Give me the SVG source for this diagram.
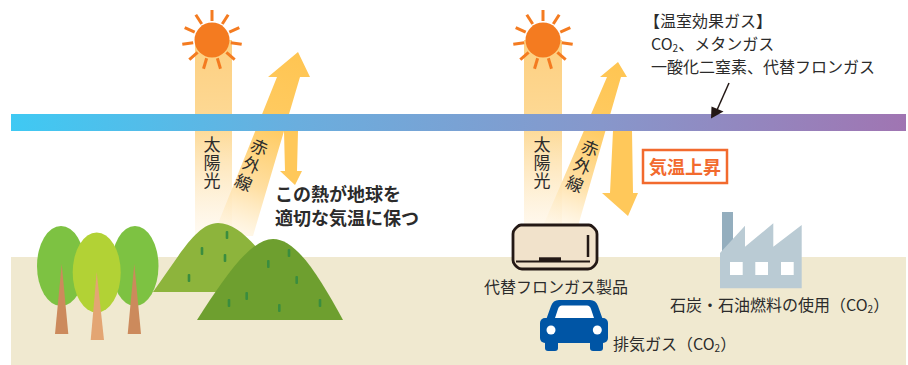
<svg xmlns="http://www.w3.org/2000/svg" width="908" height="365" viewBox="0 0 908 365">
  <defs>
    <linearGradient id="atmo" x1="11" y1="0" x2="906" y2="0" gradientUnits="userSpaceOnUse">
      <stop offset="0" stop-color="#3FC9F3"/>
      <stop offset="0.32" stop-color="#6AAEDE"/>
      <stop offset="0.66" stop-color="#8797CB"/>
      <stop offset="1" stop-color="#A075B2"/>
    </linearGradient>
    <linearGradient id="sunbeam" x1="0" y1="40" x2="0" y2="238" gradientUnits="userSpaceOnUse">
      <stop offset="0" stop-color="#FDCF80"/>
      <stop offset="0.45" stop-color="#FDDA97"/>
      <stop offset="1" stop-color="#FFF6E8" stop-opacity="0.5"/>
    </linearGradient>
    <linearGradient id="ir1" x1="298" y1="52" x2="230" y2="236" gradientUnits="userSpaceOnUse">
      <stop offset="0" stop-color="#FFC552"/>
      <stop offset="0.4" stop-color="#FFCB62"/>
      <stop offset="0.72" stop-color="#FFDFA2"/>
      <stop offset="1" stop-color="#FFF5E2" stop-opacity="0.6"/>
    </linearGradient>
    <linearGradient id="ir2" x1="618" y1="62" x2="558" y2="226" gradientUnits="userSpaceOnUse">
      <stop offset="0" stop-color="#FFC552"/>
      <stop offset="0.4" stop-color="#FFCB62"/>
      <stop offset="0.72" stop-color="#FFDFA2"/>
      <stop offset="1" stop-color="#FFF5E2" stop-opacity="0.6"/>
    </linearGradient>
    <g id="sun">
      <g stroke="#F47B20" stroke-width="3" stroke-linecap="butt">
        <line x1="0" y1="-19" x2="0" y2="-30"/>
        <line x1="0" y1="-19" x2="0" y2="-30" transform="rotate(32.7)"/>
        <line x1="0" y1="-19" x2="0" y2="-30" transform="rotate(65.5)"/>
        <line x1="0" y1="-19" x2="0" y2="-30" transform="rotate(98.2)"/>
        <line x1="0" y1="-19" x2="0" y2="-30" transform="rotate(130.9)"/>
        <line x1="0" y1="-19" x2="0" y2="-30" transform="rotate(163.6)"/>
        <line x1="0" y1="-19" x2="0" y2="-30" transform="rotate(196.4)"/>
        <line x1="0" y1="-19" x2="0" y2="-30" transform="rotate(229.1)"/>
        <line x1="0" y1="-19" x2="0" y2="-30" transform="rotate(261.8)"/>
        <line x1="0" y1="-19" x2="0" y2="-30" transform="rotate(294.5)"/>
        <line x1="0" y1="-19" x2="0" y2="-30" transform="rotate(327.3)"/>
      </g>
      <circle r="17.5" fill="#F47B20"/>
    </g>
  </defs>
  <style>
    text { font-family: 'Noto Sans CJK JP', 'Noto Sans', sans-serif; fill: #2B2B2B; }
    .lbl { font-size: 16px; }
    .vert { font-size: 17px; writing-mode: vertical-rl; letter-spacing: 1px; }
    .vert-ir { font-size: 17px; writing-mode: vertical-rl; letter-spacing: 2.5px; }
    .note { font-size: 18px; font-weight: 700; }
    .warn { font-size: 18px; font-weight: 700; fill: #F26A2E; text-anchor: middle; }
    .ray { fill: #FFC85A; }
    .grass { fill: #3A8D3F; }
  </style>

  <!-- ground -->
  <rect id="ground" x="11" y="257" width="895" height="108" fill="#F0E9D0"/>

  <!-- left scene: sunlight and infrared -->
  <g id="beams-left">
    <rect x="195" y="40" width="37" height="198" fill="url(#sunbeam)"/>
    <polygon points="298,52 310,77 300,77 253,236 213,236 277,77 268,77" fill="url(#ir1)"/>
    <use href="#sun" x="212" y="40"/>
  </g>

  <!-- right scene: sunlight and infrared -->
  <g id="beams-right">
    <rect x="524" y="40" width="38" height="186" fill="url(#sunbeam)"/>
    <polygon points="618,62 627,77 621,77 578,226 543,226 607,77 600,77" fill="url(#ir2)"/>
    <use href="#sun" x="543" y="40"/>
  </g>

  <!-- greenhouse gas layer -->
  <rect id="gas-layer" x="11" y="114" width="895" height="17" fill="url(#atmo)"/>

  <!-- reflected infrared -->
  <g id="reflect-left">
    <polygon class="ray" points="284,131 298,131 297,171 302,171 295,185 280,171 285,171"/>
  </g>
  <g id="reflect-right">
    <polygon class="ray" points="613,131 632,131 633,193 638,193 628,216 602,193 610,193"/>
  </g>

  <!-- vertical labels -->
  <g id="label-sunlight-left">
    <text class="vert" x="212" y="136">太陽光</text>
  </g>
  <g id="label-sunlight-right">
    <text class="vert" x="542" y="136">太陽光</text>
  </g>
  <g id="label-ir-left">
    <text class="vert-ir" x="0" y="-8.5" transform="translate(259.5,147) rotate(24)">赤外線</text>
  </g>
  <g id="label-ir-right">
    <text class="vert-ir" x="0" y="-8.5" transform="translate(590,148) rotate(23)">赤外線</text>
  </g>

  <g id="note-balance">
    <text class="note" x="275" y="201">この熱が地球を</text>
    <text class="note" x="275" y="225">適切な気温に保つ</text>
  </g>

  <g id="warming">
    <rect x="643" y="150" width="84" height="33" fill="#FFFFFF" stroke="#F26A2E" stroke-width="2.5"/>
    <text class="warn" x="685" y="174">気温上昇</text>
  </g>

  <g id="gas-list">
    <text class="lbl" x="644" y="27">【温室効果ガス】</text>
    <text class="lbl" x="651" y="50">CO<tspan font-size="10" dy="2">2</tspan><tspan dy="-2">、メタンガス</tspan></text>
    <text class="lbl" x="651" y="73">一酸化二窒素、代替フロンガス</text>
  </g>

  <!-- hills -->
  <g id="hill-back">
    <path d="M153,292 C178,258 196,223 218,223 C242,223 262,254 292,292 Z" fill="#8DB43C"/>
    <rect class="grass" x="225.7" y="231" width="2.6" height="8" rx="1"/>
    <rect class="grass" x="200.7" y="247" width="2.6" height="8" rx="1"/>
    <rect class="grass" x="223.7" y="254" width="2.6" height="8" rx="1"/>
    <rect class="grass" x="187.7" y="274" width="2.6" height="8" rx="1"/>
  </g>
  <g id="hill-front">
    <path d="M197,320 C224,278 250,239 273,239 C297,239 320,278 343,320 Z" fill="#6E9F2F"/>
    <rect class="grass" x="287.7" y="249" width="2.6" height="8" rx="1"/>
    <rect class="grass" x="267" y="260" width="2.6" height="8" rx="1"/>
    <rect class="grass" x="295.4" y="276" width="2.6" height="8" rx="1"/>
    <rect class="grass" x="245.4" y="292" width="2.6" height="8" rx="1"/>
    <rect class="grass" x="227.7" y="299" width="2.6" height="8" rx="1"/>
    <rect class="grass" x="278" y="304" width="2.6" height="8" rx="1"/>
    <rect class="grass" x="318.7" y="299" width="2.6" height="8" rx="1"/>
  </g>

  <!-- trees -->
  <g id="tree-left">
    <ellipse cx="61" cy="266" rx="24" ry="40" fill="#7DC242"/>
    <polygon points="61.7,264 55,334 68.3,334" fill="#CC8A5C"/>
  </g>
  <g id="tree-right">
    <ellipse cx="135" cy="266" rx="23.5" ry="40" fill="#7DC242"/>
    <polygon points="134.3,264 127.7,334 141,334" fill="#CC8A5C"/>
  </g>
  <g id="tree-middle">
    <ellipse cx="96.7" cy="272.5" rx="24" ry="40" fill="#B2D235"/>
    <polygon points="96.7,272 90.7,340 104,340" fill="#E3A573"/>
  </g>

  <!-- air conditioner -->
  <g id="aircon">
    <path d="M521,225 H589 Q591,225 593,227 L595,229 Q597,231 597,234 V260 Q597,263 595,265 L593,267 Q591,269 588,269 H522 Q519,269 517,267 L515,265 Q513,263 513,260 V234 Q513,231 515,229 L517,227 Q519,225 521,225 Z" fill="#F1E2CB" stroke="#231815" stroke-width="2.8"/>
    <line x1="588" y1="235" x2="588" y2="257" stroke="#231815" stroke-width="2.5"/>
    <line x1="516" y1="261.5" x2="590" y2="261.5" stroke="#231815" stroke-width="1.8"/>
    <rect x="539" y="257.3" width="22" height="4.5" fill="#231815"/>
    <text class="lbl" x="556" y="293" text-anchor="middle">代替フロンガス製品</text>
  </g>

  <!-- car -->
  <g id="car">
    <path d="M546,320 L551,306 Q553,300 559,300 L590,300 Q596,300 598,306 L603,320 Z" fill="#0055A5"/>
    <path d="M555,318 L558,309 Q559,305.5 562,305.5 L587,305.5 Q590,305.5 591,309 L594,318 Z" fill="#FFFFFF"/>
    <rect x="540" y="318" width="68" height="25" rx="5" fill="#0055A5"/>
    <rect x="545" y="338" width="13" height="13" rx="3" fill="#0055A5"/>
    <rect x="590" y="338" width="13" height="13" rx="3" fill="#0055A5"/>
    <circle cx="551" cy="330" r="4.5" fill="#FFFFFF"/>
    <circle cx="597.3" cy="330" r="4.5" fill="#FFFFFF"/>
    <text class="lbl" x="613" y="350">排気ガス（CO<tspan font-size="10" dy="2">2</tspan><tspan dy="-2">）</tspan></text>
  </g>

  <!-- factory -->
  <g id="factory">
    <rect x="722" y="212" width="11" height="45" fill="#94AEBE"/>
    <polygon points="720,288.3 720,253 745,225.7 745,246.7 773.3,223.3 773.3,246.7 801.7,225 801.7,288.3" fill="#BACBD4"/>
    <rect x="730" y="262" width="12.7" height="13" fill="#FFFFFF"/>
    <rect x="755.3" y="262" width="12.7" height="13" fill="#FFFFFF"/>
    <rect x="781" y="262" width="12.7" height="13" fill="#FFFFFF"/>
    <text class="lbl" x="670" y="311">石炭・石油燃料の使用（CO<tspan font-size="10" dy="2">2</tspan><tspan dy="-2">）</tspan></text>
  </g>

  <!-- connectors -->
  <g id="connectors">
    <line x1="729" y1="83" x2="717" y2="110" stroke="#231815" stroke-width="1.5"/>
    <polygon points="711,118.5 711.5,106.5 723.5,111.5" fill="#231815"/>
  </g>
</svg>
